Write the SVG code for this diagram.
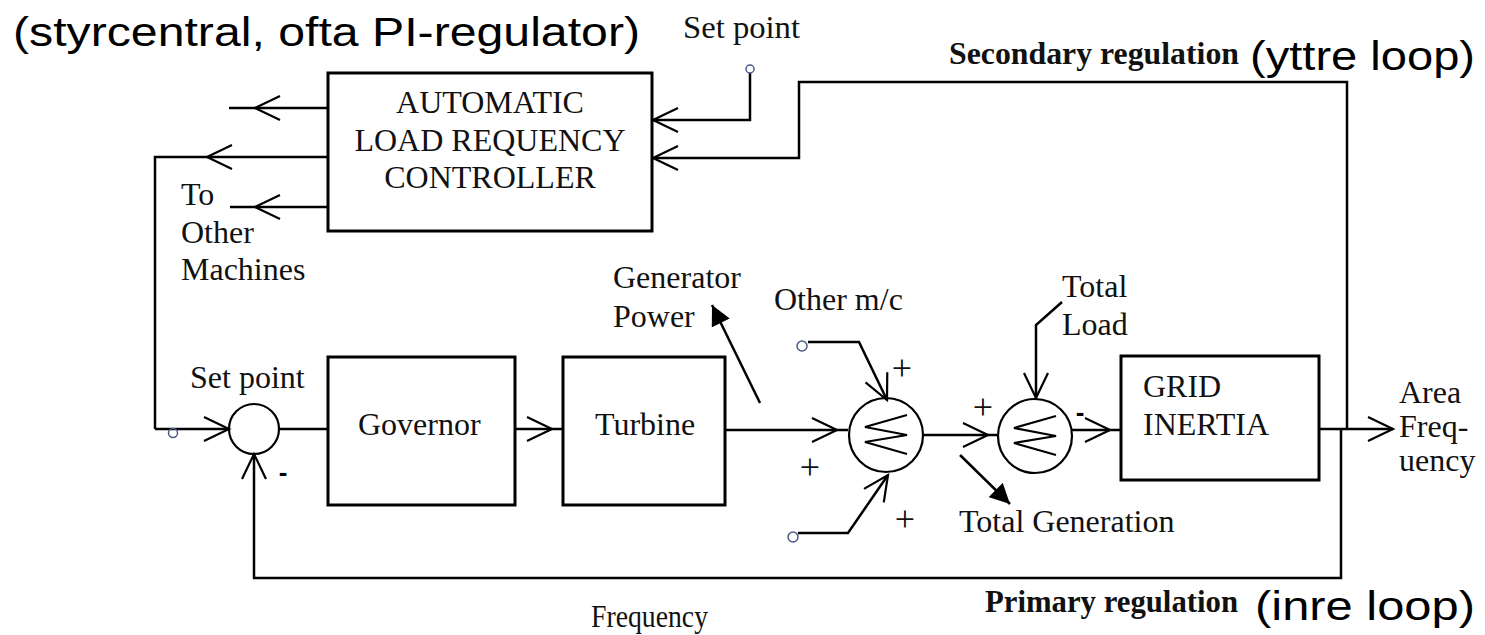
<svg xmlns="http://www.w3.org/2000/svg" xmlns:xlink="http://www.w3.org/1999/xlink" width="1485" height="635" viewBox="0 0 1485 635">
<style>
.t{font-family:"Liberation Serif","Times New Roman",serif;font-size:32px;fill:#111}
.a{font-family:"Liberation Sans",Arial,sans-serif;font-size:41px;fill:#000}
.bd{font-weight:bold}
.box{fill:#fff;stroke:#000;stroke-width:3}
.ln{fill:none;stroke:#000;stroke-width:2.5}
.ch{fill:none;stroke:#000;stroke-width:2.2}
.sc{fill:none;stroke:#000;stroke-width:2.2}
.sm{fill:none;stroke:#4a5a8a;stroke-width:1.5}
.pl{font-family:"Liberation Serif","Times New Roman",serif;font-size:36px;fill:#111;text-anchor:middle}
.mi{font-family:"Liberation Sans",Arial,sans-serif;font-size:26px;font-weight:bold;fill:#000;text-anchor:middle}
</style>
<defs>
<path id="chev" d="M-25,-12 L0,0 L-25,12"/>
<path id="zz" d="M21,-20 L-21,-8 L21,0 L-21,7 L21,19"/>
<marker id="tri" markerWidth="22" markerHeight="20" refX="20" refY="10" orient="auto" markerUnits="userSpaceOnUse">
<path d="M0,0 L20,10 L0,20 Z" fill="#000"/>
</marker>
</defs>

<g id="title">
<text class="a" x="13" y="46" textLength="627" lengthAdjust="spacingAndGlyphs">(styrcentral, ofta PI-regulator)</text>
<text class="t" x="683" y="38" font-size="28" textLength="117" lengthAdjust="spacingAndGlyphs">Set point</text>
<text class="t bd" x="949" y="64" font-size="27" textLength="290" lengthAdjust="spacingAndGlyphs">Secondary regulation</text>
<text class="a" x="1250" y="70" textLength="225" lengthAdjust="spacingAndGlyphs">(yttre loop)</text>
<text class="t bd" x="985" y="612" font-size="27" textLength="253" lengthAdjust="spacingAndGlyphs">Primary regulation</text>
<text class="a" x="1255" y="620" textLength="220" lengthAdjust="spacingAndGlyphs">(inre loop)</text>
<text class="t" x="591" y="627" font-size="28" textLength="117" lengthAdjust="spacingAndGlyphs">Frequency</text>
</g>

<g id="connectors">
<path class="ln" d="M229,108 H328"/>
<path class="ln" d="M155,429 V157 H328"/>
<path class="ln" d="M230,207 H328"/>
<path class="ln" d="M155,429 H229"/>
<path class="ln" d="M279,429 H328"/>
<path class="ln" d="M502,429 H577"/>
<path class="ln" d="M725,430 H848"/>
<path class="ln" d="M923,435 H997"/>
<path class="ln" d="M1072,430 H1121"/>
<path class="ln" d="M1319,429 H1393"/>
<path class="ln" d="M1347,429 V82 H799 V158 H652"/>
<path class="ln" d="M750,73 V120 H652"/>
<path class="ln" d="M1341,429 V578 H254 V454"/>
<path class="ln" d="M808,342 H859 L887,400"/>
<path class="ln" d="M798,533 H848 L888,475"/>
<path class="ln" d="M1062,302 L1036,325 V398"/>
<path class="ln" d="M760,403 L712,305" marker-end="url(#tri)"/>
<path class="ln" d="M960,455 L1010,504" marker-end="url(#tri)"/>
<circle class="sm" cx="750" cy="69" r="4"/>
<circle class="sm" cx="173" cy="433" r="4.5"/>
<circle class="sm" cx="802" cy="346" r="5"/>
<circle class="sm" cx="793" cy="537" r="5"/>
<use xlink:href="#chev" class="ch" transform="translate(255,108) rotate(180)"/>
<use xlink:href="#chev" class="ch" transform="translate(207,157) rotate(180)"/>
<use xlink:href="#chev" class="ch" transform="translate(255,207) rotate(180)"/>
<use xlink:href="#chev" class="ch" transform="translate(653,120) rotate(180)"/>
<use xlink:href="#chev" class="ch" transform="translate(653,158) rotate(180)"/>
<use xlink:href="#chev" class="ch" transform="translate(229,429)"/>
<use xlink:href="#chev" class="ch" transform="translate(254,454) rotate(-90)"/>
<use xlink:href="#chev" class="ch" transform="translate(552,429)"/>
<use xlink:href="#chev" class="ch" transform="translate(837,430)"/>
<use xlink:href="#chev" class="ch" transform="translate(887,400) rotate(64.9)"/>
<use xlink:href="#chev" class="ch" transform="translate(888,475) rotate(-55.6)"/>
<use xlink:href="#chev" class="ch" transform="translate(988,435)"/>
<use xlink:href="#chev" class="ch" transform="translate(1036,398) rotate(90)"/>
<use xlink:href="#chev" class="ch" transform="translate(1110,430)"/>
<use xlink:href="#chev" class="ch" transform="translate(1393,429)"/>
</g>

<g id="alfc">
<rect class="box" x="328" y="73" width="324" height="158"/>
<text class="t" x="490" y="113" text-anchor="middle">AUTOMATIC</text>
<text class="t" x="490" y="151" text-anchor="middle">LOAD REQUENCY</text>
<text class="t" x="490" y="188" text-anchor="middle">CONTROLLER</text>
</g>

<g id="other-machines">
<text class="t" x="181" y="205">To</text>
<text class="t" x="181" y="243">Other</text>
<text class="t" x="181" y="280">Machines</text>
</g>

<g id="sum1">
<circle class="sc" cx="254" cy="429" r="25"/>
<text class="t" x="190" y="388">Set point</text>
<text class="mi" x="283" y="481">-</text>
</g>

<g id="governor">
<rect class="box" x="328" y="357" width="187" height="148"/>
<text class="t" x="358" y="435">Governor</text>
</g>

<g id="turbine">
<rect class="box" x="563" y="357" width="162" height="148"/>
<text class="t" x="595" y="435">Turbine</text>
</g>

<g id="generator-power">
<text class="t" x="613" y="288">Generator</text>
<text class="t" x="613" y="327">Power</text>
</g>

<g id="sum2">
<circle class="sc" cx="886" cy="435" r="37"/>
<use xlink:href="#zz" class="sc" transform="translate(886,435)"/>
<text class="t" x="774" y="310">Other m/c</text>
<text class="pl" x="810" y="479" fill="#6a1f1f">+</text>
<text class="pl" x="902" y="380">+</text>
<text class="pl" x="905" y="531">+</text>
</g>

<g id="sum3">
<circle class="sc" cx="1035" cy="436" r="37"/>
<use xlink:href="#zz" class="sc" transform="translate(1035,436)"/>
<text class="t" x="1062" y="297">Total</text>
<text class="t" x="1062" y="335">Load</text>
<text class="pl" x="983" y="419">+</text>
<text class="mi" x="1080" y="421">-</text>
</g>

<g id="total-generation">
<text class="t" x="959" y="532">Total Generation</text>
</g>

<g id="grid">
<rect class="box" x="1121" y="356" width="198" height="124"/>
<text class="t" x="1143" y="397">GRID</text>
<text class="t" x="1143" y="435">INERTIA</text>
</g>

<g id="area-frequency">
<text class="t" x="1399" y="403">Area</text>
<text class="t" x="1399" y="437">Freq-</text>
<text class="t" x="1399" y="471">uency</text>
</g>
</svg>
